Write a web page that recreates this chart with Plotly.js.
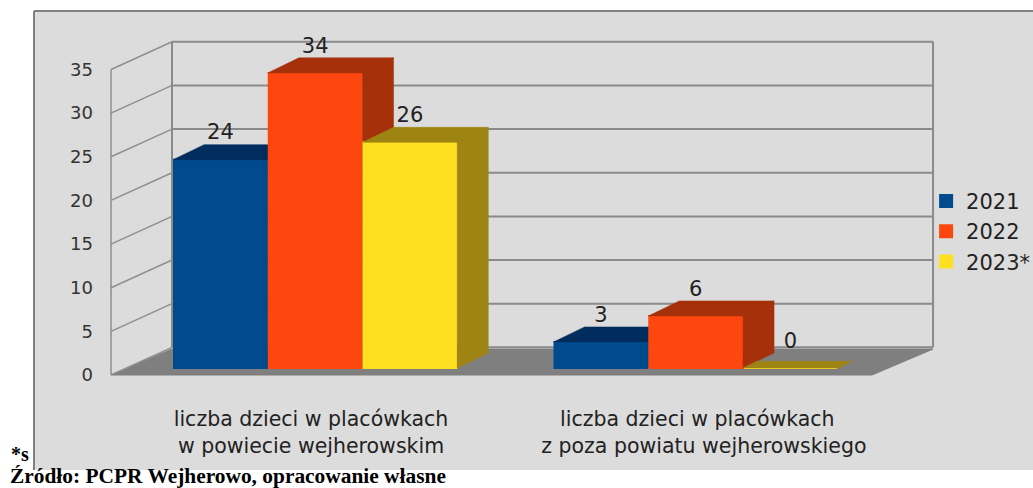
<!DOCTYPE html>
<html><head><meta charset="utf-8">
<script src="https://cdn.plot.ly/plotly-3.0.1.min.js"></script>
<style>html,body{margin:0;padding:0;background:#fff}#c{width:1033px;height:488px}</style>
</head><body><div id="c"></div>
<script>
// ---- data ----
const categories = ["liczba dzieci w placówkach<br>w powiecie wejherowskim", "liczba dzieci w placówkach\u00a0\u00a0<br>z poza powiatu wejherowskiego"];
const seriesNames = ["2021", "2022", "2023*"];
const values2021 = [24, 3];
const values2022 = [34, 6];
const values2023 = [26, 0];
const yTicks = [0, 5, 10, 15, 20, 25, 30, 35];
// ---- style ----
const frontColors = ["#004b8d", "#fd470f", "#fee021"];
const darkColors = ["#002d5e", "#a5300a", "#9d8413"];
const groupX = [0, 1];
const labelX = [0.5256, 1.558];
const barStart = 0.163, barW = 0.249;
const barDx = 0.0815, barDy = 1.73, wallDx = 0.1603, wallDy = 3.17;
const allValues = [values2021, values2022, values2023];

const traces = [];
// floor
traces.push({x:[0,2,2+wallDx,wallDx,0], y:[0,0,wallDy-0.2,wallDy-0.2,0], mode:'lines', fill:'toself', fillcolor:'#7f7f7f',
  line:{color:'#7f7f7f',width:1}, showlegend:false, hoverinfo:'skip'});
// back wall grid + side wall ticks
const gx=[], gy=[], sx=[], sy=[];
yTicks.forEach(t=>{
  gx.push(wallDx,2+wallDx,null); gy.push(t+wallDy,t+wallDy,null);
  sx.push(0,wallDx,null); sy.push(t,t+wallDy,null);
});
const top_ = yTicks[yTicks.length-1];
traces.push({x:gx.concat([wallDx,wallDx,null,2+wallDx,2+wallDx]), y:gy.concat([wallDy,top_+wallDy,null,wallDy,top_+wallDy]),
  mode:'lines', line:{color:'#8a8a8a',width:2}, showlegend:false, hoverinfo:'skip'});
traces.push({x:sx.concat([0,0]), y:sy.concat([0,top_]), mode:'lines', line:{color:'#8f8f8f',width:1.5}, showlegend:false, hoverinfo:'skip'});

allValues.forEach((vals,i)=>{
  const ya = 'y'+(i+2);
  // top and side faces, computed from the values
  const px=[], py=[];
  vals.forEach((v,g)=>{
    const k = v===0 ? 0.45 : 1;
    const x0=groupX[g]+barStart+i*barW, x1=x0+barW, dx=barDx*k, dy=barDy*k;
    px.push(x0,x1,x1+dx,x0+dx,x0,null);
    py.push(v,v,v+dy,v+dy,v,null);
    px.push(x1,x1+dx,x1+dx,x1,x1,null);
    py.push(0,dy,v+dy,v,0,null);
  });
  traces.push({x:px,y:py,yaxis:ya,mode:'lines',fill:'toself',fillcolor:darkColors[i],line:{color:darkColors[i],width:0.5},showlegend:false,hoverinfo:'skip'});
  traces.push({type:'bar',name:seriesNames[i],x:groupX,y:vals,yaxis:ya,width:barW-0.005,offset:barStart+i*barW+0.0025,
    marker:{color:frontColors[i],line:{color:frontColors[i],width:2}}});
  traces.push({x:groupX.map(g=>g+barStart+(i+0.5)*barW),y:vals.map(v=>v+barDy),yaxis:ya,mode:'text',
    text:vals.map(String),textposition:'top center',textfont:{family:'DejaVu Sans',size:21,color:'#222'},cliponaxis:false,showlegend:false,hoverinfo:'skip'});
});

const barRange=[-11.75,41.13];
const hiddenY=(o)=>Object.assign({visible:false,overlaying:'y',range:barRange,fixedrange:true},o||{});
const layout={
  width:1033,height:488,margin:{l:34,r:0,t:11,b:18,pad:0,autoexpand:false},
  paper_bgcolor:'#fff',plot_bgcolor:'#dcdcdc',barmode:'overlay',
  showlegend:true,
  legend:{x:0.893,y:0.63,xanchor:'left',yanchor:'top',bgcolor:'rgba(0,0,0,0)',font:{family:'DejaVu Sans',size:21,color:'#222'},traceorder:'normal',itemwidth:30},
  xaxis:{range:[-0.2024,2.423],anchor:'free',position:0.207,tickmode:'array',tickvals:labelX,ticktext:categories,ticklen:0,showgrid:false,zeroline:false,showline:false,
    tickangle:0,ticklabelstandoff:30,tickfont:{family:'DejaVu Sans',size:20.5,color:'#222'},fixedrange:true},
  yaxis:{range:[-10.88,41.695],anchor:'free',position:0.0771,tickmode:'array',tickvals:yTicks,ticktext:yTicks.map(String),ticklen:0,showgrid:false,zeroline:false,showline:false,
    ticklabelstandoff:18,tickfont:{family:'DejaVu Sans',size:18,color:'#333'},fixedrange:true},
  yaxis2:hiddenY(),yaxis3:hiddenY(),yaxis4:hiddenY(),
  shapes:[
    {type:'line',xref:'paper',yref:'paper',x0:0,x1:0,y0:0,y1:1,line:{color:'#808080',width:2}},
    {type:'line',xref:'paper',yref:'paper',x0:0,x1:1,y0:1,y1:1,line:{color:'#808080',width:2}}
  ],
  annotations:[
    {xref:'paper',yref:'paper',x:-0.0255,y:0.0,xanchor:'left',yanchor:'bottom',yshift:3,text:'<b>*s</b>',showarrow:false,font:{family:'Liberation Serif',size:20,color:'#000'}},
    {xref:'paper',yref:'paper',x:-0.0255,y:-0.0131,xanchor:'left',yanchor:'middle',borderpad:0,text:'<b>Źródło: PCPR Wejherowo, opracowanie własne</b>',showarrow:false,font:{family:'Liberation Serif',size:21.4,color:'#000'}}
  ]
};
Plotly.newPlot('c',traces,layout,{displayModeBar:false,responsive:false});
</script></body></html>
